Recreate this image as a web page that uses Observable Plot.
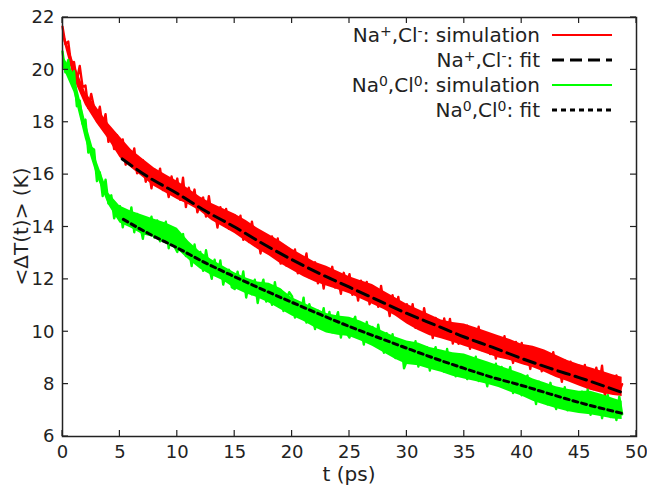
<!DOCTYPE html>
<html><head><meta charset="utf-8">
<script src="https://cdn.jsdelivr.net/npm/d3@7"></script>
<script src="https://cdn.jsdelivr.net/npm/@observablehq/plot@0.6"></script>
<style>
body{margin:0;background:#fff}
#chart svg{font-family:"DejaVu Sans",sans-serif}
</style>
</head><body><div id="chart"></div>
<script>
// sampling step of the simulation traces (ps)
const timeStep = 0.25;

// Na+,Cl- simulation, <ΔT(t)> in K, one value every 0.25 ps from t = 0
const redSim = [
21.65,20.99,21.08,20.21,20.3,19.6,20.15,19.35,19.4,18.54,19.08,18.56,18.05,18.59,17.83,18.31,17.25,17.69,16.98,17.51,
16.85,17.34,16.38,16.96,16.5,17.0,16.05,16.35,16.55,15.73,16.25,15.48,16.2,15.69,16.23,15.41,15.75,15.14,15.93,15.41,
15.85,15.04,15.88,14.76,15.5,14.99,15.43,14.56,14.95,15.13,14.4,15.18,14.4,14.69,13.98,14.76,14.1,14.69,13.93,14.26,
14.45,13.79,14.43,13.51,13.95,13.43,14.2,13.53,13.75,12.99,13.73,13.36,13.0,13.64,12.98,13.56,12.6,13.14,12.53,13.16,
12.6,13.14,12.23,12.86,12.45,12.99,12.08,12.41,12.65,11.85,12.4,11.65,12.4,11.91,12.48,11.69,12.05,11.45,12.25,11.75,
12.2,11.41,11.88,11.19,11.95,11.45,11.9,11.05,11.45,11.65,10.95,11.75,11.0,11.3,10.6,11.4,10.75,11.33,10.55,10.88,
11.05,10.4,11.05,10.15,10.6,10.1,10.9,10.25,10.5,9.76,10.53,10.19,9.85,10.51,9.88,10.49,9.55,10.12,9.54,10.2,
9.67,10.23,9.35,10.01,9.62,10.19,9.3,9.67,9.93,9.15,9.72,8.98,9.75,9.26,9.83,9.04,9.4,8.81,9.61,9.12,
9.57,8.79,9.26,8.58,9.35,8.86,9.33,8.49,8.9,9.11,8.42,9.22,8.48,8.79,8.09,8.9,8.25,8.86,8.13,8.49,
8.7,8.06,8.73,7.84,8.3,7.81,8.63,7.99,8.7,7.53,8.3,7.98,7.65,8.33,7.72,8.0
];

// Na0,Cl0 simulation, one value every 0.25 ps from t = 0
const greenSim = [
20.7,19.91,20.38,19.64,19.95,18.61,18.83,17.94,18.1,16.84,17.03,16.96,15.75,16.09,15.18,15.81,14.9,15.21,14.33,14.69,
14.8,13.99,14.53,14.11,14.75,13.8,14.5,14.1,13.55,14.26,13.88,14.39,13.6,14.25,13.45,13.85,14.2,13.19,13.78,13.26,
13.05,13.56,13.73,12.89,13.2,12.51,13.33,12.69,13.05,12.33,13.11,12.49,12.02,12.75,12.14,12.72,11.8,12.28,12.37,11.7,
11.63,12.29,11.75,12.3,11.31,11.92,11.43,11.99,11.1,11.67,11.99,11.15,11.72,11.03,11.89,11.19,11.6,10.79,11.23,11.51,
11.35,10.54,11.08,10.66,11.3,10.35,11.05,10.65,10.1,10.8,10.4,10.9,10.1,10.76,9.98,10.39,10.75,9.78,10.42,9.95,
9.78,10.35,10.57,9.78,10.15,9.51,10.37,9.77,10.18,9.47,10.27,9.66,9.2,9.94,9.33,9.91,9.0,9.5,9.6,8.6,
8.9,9.58,9.06,9.64,8.67,9.3,8.82,9.4,8.52,9.09,9.41,8.58,9.15,8.47,9.34,8.65,9.07,8.3,8.77,9.1,
8.97,8.19,8.76,8.38,9.05,8.12,8.84,8.45,7.92,8.64,8.26,8.78,8.0,8.66,7.88,8.29,8.65,7.66,8.26,7.77,
7.58,8.13,8.33,7.53,7.88,7.24,8.09,7.5,7.9,7.23,8.05,7.48,7.05,7.83,7.25,7.88,7.0,7.53,7.66,7.04,
7.02,7.71,7.2,7.79,6.83,7.46,6.99,7.57,6.7,7.26,7.58,6.74,7.3,6.63,7.52,6.85
];

// solid core of each noisy band (upper / lower edge), read every 1 ps
const envTimes = [0,1,2,3,4,5,6,7,8,9,10,11,12,13,14,15,16,17,18,19,20,21,22,23,24,25,26,27,28,29,30,31,32,33,34,35,36,37,38,39,40,41,42,43,44,45,46,47,48,48.75];
const redTop = [21.55,20.25,19.15,18.55,17.95,17.45,16.95,16.6,16.25,16.0,15.75,15.45,15.15,14.9,14.7,14.5,14.25,13.95,13.7,13.45,13.15,12.9,12.65,12.5,12.3,12.1,11.95,11.8,11.55,11.3,11.05,10.85,10.65,10.45,10.35,10.3,10.15,10.0,9.85,9.7,9.52,9.45,9.3,9.1,8.9,8.75,8.63,8.49,8.35,8.26];
const redBot = [21.3,19.65,18.65,17.95,17.35,16.65,16.25,15.9,15.55,15.3,15.05,14.85,14.6,14.25,14.0,13.75,13.45,13.15,12.9,12.6,12.35,12.1,11.9,11.75,11.6,11.45,11.25,11.05,10.85,10.6,10.3,10.05,9.85,9.73,9.6,9.45,9.3,9.15,9.0,8.9,8.75,8.63,8.45,8.25,8.1,7.93,7.77,7.65,7.57,7.53];
const greenTop = [20.55,19.85,18.05,16.5,15.3,14.8,14.6,14.45,14.3,14.15,13.95,13.45,13.05,12.75,12.5,12.25,12.05,11.9,11.85,11.65,11.3,11.1,10.9,10.7,10.6,10.55,10.4,10.2,10.0,9.8,9.65,9.57,9.4,9.3,9.2,9.15,9.0,8.85,8.7,8.55,8.4,8.2,8.05,7.9,7.8,7.73,7.73,7.6,7.45,7.35];
const greenBot = [20.15,19.15,17.35,15.95,14.85,14.15,13.95,13.7,13.6,13.35,13.15,12.75,12.4,12.15,11.95,11.65,11.45,11.3,11.1,10.85,10.6,10.4,10.15,9.95,9.87,9.82,9.65,9.45,9.2,8.95,8.75,8.7,8.57,8.45,8.3,8.2,8.1,8.0,7.87,7.7,7.55,7.35,7.2,7.07,6.95,6.88,6.83,6.75,6.67,6.65];

// fits
const redFitT   = [5.2,7.5,10,12.5,15,17.5,20,22.5,25,27.5,30,32.5,35,37.5,40,42.5,45,48.7];
const redFitV   = [16.6,15.9,15.28,14.6,14.0,13.35,12.75,12.2,11.7,11.2,10.7,10.25,9.8,9.4,8.98,8.6,8.25,7.69];
const greenFitT = [5.3,7.5,10,12.5,15,17.5,20,22.5,25,27.5,30,32.5,35,37.5,40,42.5,45,48.7];
const greenFitV = [14.29,13.75,13.2,12.62,12.1,11.6,11.12,10.65,10.2,9.78,9.37,8.97,8.6,8.25,7.95,7.62,7.3,6.89];

// axes
const xTicks = [0,5,10,15,20,25,30,35,40,45,50];
const yTicks = [6,8,10,12,14,16,18,20,22];
const xLabel = "t (ps)";
const yLabel = "<ΔT(t)> (K)";

// legend: each label is a list of [text, isSuperscript] pieces
const legendLabels = [
  [["Na",0],["+",1],[",Cl",0],["-",1],[": simulation",0]],
  [["Na",0],["+",1],[",Cl",0],["-",1],[": fit",0]],
  [["Na",0],["0",1],[",Cl",0],["0",1],[": simulation",0]],
  [["Na",0],["0",1],[",Cl",0],["0",1],[": fit",0]]
];
const seriesColors = ["#ff0000","#000000","#00ff00","#000000"];
const seriesDash   = [null,"12,6",null,"5,4"];
const seriesWidth  = [2.4,3,2.4,3];

const sim = arr => arr.map((v,i)=>({t:i*timeStep, v}));
const fit = (T,V) => T.map((t,i)=>({t, v:V[i]}));
const env = (lo,hi) => envTimes.map((t,i)=>({t, lo:lo[i], hi:hi[i]}));

const W = 647, H = 487;
const plot = Plot.plot({
  width: W, height: H,
  marginLeft: 62, marginRight: 11, marginTop: 17, marginBottom: 51,
  style: {fontSize: "18px", fontFamily: "DejaVu Sans, sans-serif", color: "#222", background: "#fff"},
  x: {domain: [0,50]},
  y: {domain: [6,22]},
  marks: [
    Plot.axisX({ticks: xTicks, tickSize: 0, tickPadding: 9, label: null, tickFormat: d => d}),
    Plot.axisY({ticks: yTicks, tickSize: 0, tickPadding: 8, label: null, tickFormat: d => d}),
    Plot.areaY(env(redBot, redTop), {x:"t", y1:"lo", y2:"hi", fill: seriesColors[0]}),
    Plot.line(sim(redSim), {x:"t", y:"v", stroke: seriesColors[0], strokeWidth: seriesWidth[0]}),
    Plot.line(fit(redFitT, redFitV), {x:"t", y:"v", stroke: seriesColors[1], strokeWidth: seriesWidth[1], strokeDasharray: seriesDash[1], curve: "monotone-x"}),
    Plot.areaY(env(greenBot, greenTop), {x:"t", y1:"lo", y2:"hi", fill: seriesColors[2]}),
    Plot.line(sim(greenSim), {x:"t", y:"v", stroke: seriesColors[2], strokeWidth: seriesWidth[2]}),
    Plot.line(fit(greenFitT, greenFitV), {x:"t", y:"v", stroke: seriesColors[3], strokeWidth: seriesWidth[3], strokeDasharray: seriesDash[3], curve: "monotone-x"}),
    Plot.frame({stroke: "#222", strokeWidth: 1.5})
  ]
});
document.getElementById("chart").append(plot);

const svg = d3.select(plot);
const sx = plot.scale("x"), sy = plot.scale("y");
const x0 = sx.range[0], x1 = sx.range[1];
const yb = sy.range[0], yt = sy.range[1];
const tick = 6;
const g = svg.append("g").attr("stroke","#222").attr("stroke-width",1.2);
xTicks.forEach(v => {
  const x = sx.apply(v);
  g.append("line").attr("x1",x).attr("x2",x).attr("y1",yb).attr("y2",yb-tick);
  g.append("line").attr("x1",x).attr("x2",x).attr("y1",yt).attr("y2",yt+tick);
});
yTicks.forEach(v => {
  const y = sy.apply(v);
  g.append("line").attr("x1",x0).attr("x2",x0+tick).attr("y1",y).attr("y2",y);
  g.append("line").attr("x1",x1).attr("x2",x1-tick).attr("y1",y).attr("y2",y);
});

// axis titles
svg.append("text").attr("x",(x0+x1)/2).attr("y",H-6).attr("text-anchor","middle")
  .attr("font-size",20).attr("fill","#222").text(xLabel);
svg.append("text").attr("transform",`translate(21,${(yb+yt)/2}) rotate(-90)`).attr("text-anchor","middle")
  .attr("dy","0.35em").attr("font-size",20).attr("fill","#222").text(yLabel);

// legend
const lg = svg.append("g");
legendLabels.forEach((pieces,i) => {
  const y = 35 + i*25;
  const t = lg.append("text").attr("x",540).attr("y",y).attr("dy","0.35em").attr("text-anchor","end")
    .attr("font-size",20).attr("fill","#222");
  pieces.forEach(([s,sup]) => {
    t.append("tspan").attr("font-size", sup ? 14 : 20)
      .attr("baseline-shift", sup ? "40%" : null).text(s);
  });
  lg.append("line").attr("x1",552).attr("x2",612).attr("y1",y).attr("y2",y)
    .attr("stroke",seriesColors[i]).attr("stroke-width",seriesWidth[i]===3?3:2)
    .attr("stroke-dasharray",seriesDash[i]);
});
</script>
</body></html>
